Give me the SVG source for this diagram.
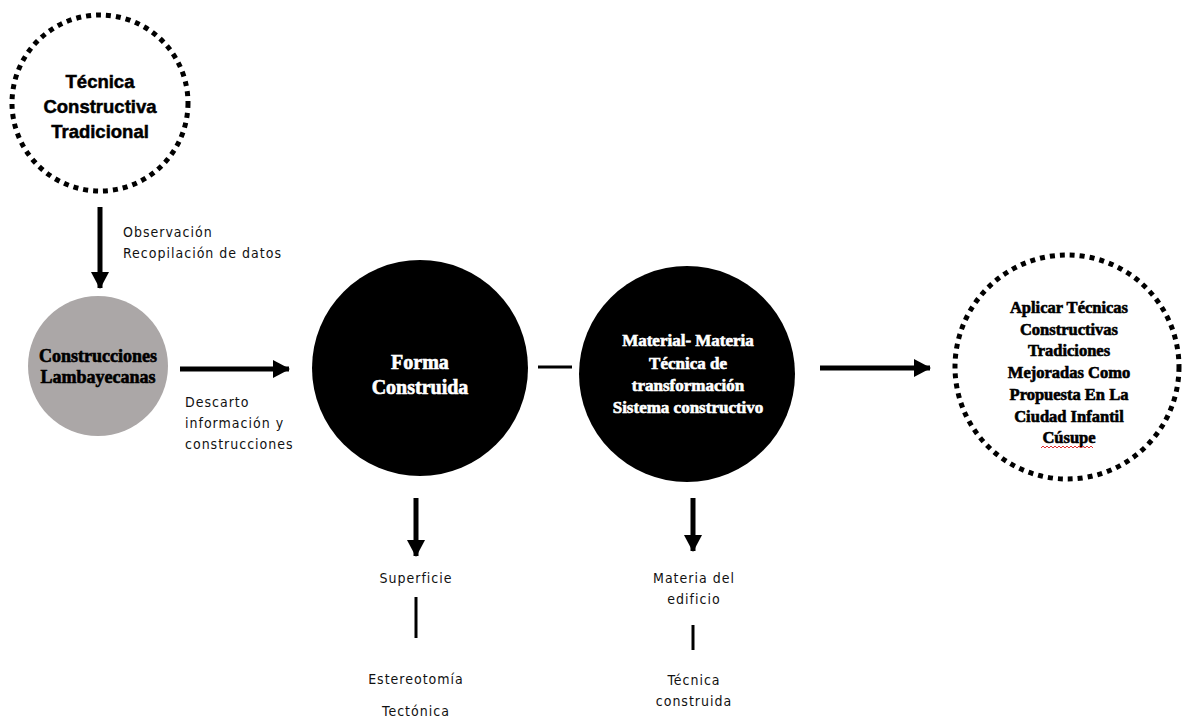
<svg xmlns="http://www.w3.org/2000/svg" width="1183" height="720" viewBox="0 0 1183 720">
  <defs>
    <marker id="ah" markerUnits="userSpaceOnUse" markerWidth="18" markerHeight="18" refX="16" refY="9" orient="auto">
      <path d="M0,0 L17,9 L0,18 Z" fill="#000"/>
    </marker>
    <style>
      .dotted { fill: #fff; stroke: #000; stroke-width: 5; stroke-dasharray: 5 5; }
      .solid { fill: #000; }
      .gray { fill: #aba7a7; }
      .ttl { font-family: "Liberation Serif", serif; font-weight: bold; text-anchor: middle; stroke: #000; stroke-width: 0.6px; }
      .wt { fill: #fff; stroke: #fff; }
      .sans { font-family: "Liberation Sans", sans-serif; font-weight: bold; text-anchor: middle; stroke: #000; stroke-width: 0.5px; }
      .lbl { font-family: "DejaVu Sans", sans-serif; font-stretch: condensed; font-size: 14px; fill: #111; letter-spacing: 1px; }
      .mid { text-anchor: middle; }
      .conn { stroke: #000; stroke-width: 5; fill: none; }
      .thin { stroke: #000; stroke-width: 3; fill: none; }
    </style>
  </defs>

  <g id="connectors">
    <line class="conn" x1="100" y1="207" x2="100" y2="288" marker-end="url(#ah)"/>
    <line class="conn" x1="180" y1="369" x2="289" y2="369" marker-end="url(#ah)"/>
    <line class="thin" x1="538" y1="367" x2="572" y2="367"/>
    <line class="conn" x1="820" y1="368" x2="930" y2="368" marker-end="url(#ah)"/>
    <line class="conn" x1="416" y1="498" x2="416" y2="556" marker-end="url(#ah)"/>
    <line class="conn" x1="693" y1="498" x2="693" y2="551" marker-end="url(#ah)"/>
    <line class="thin" x1="416" y1="597" x2="416" y2="638"/>
    <line class="thin" x1="693" y1="625" x2="693" y2="650"/>
  </g>

  <g id="node-tecnica">
    <circle class="dotted" cx="100" cy="103" r="88"/>
    <text class="sans" font-size="18.5" x="100" y="88">Técnica</text>
    <text class="sans" font-size="18.5" x="100" y="113">Constructiva</text>
    <text class="sans" font-size="18.5" x="100" y="138">Tradicional</text>
  </g>

  <g id="label-observacion">
    <text class="lbl" x="123" y="237">Observación</text>
    <text class="lbl" x="123" y="258">Recopilación de datos</text>
  </g>

  <g id="node-construcciones">
    <circle class="gray" cx="98" cy="366" r="70"/>
    <text class="ttl" font-size="18" x="98" y="362">Construcciones</text>
    <text class="ttl" font-size="18" x="98" y="383">Lambayecanas</text>
  </g>

  <g id="label-descarto">
    <text class="lbl" x="185" y="407">Descarto</text>
    <text class="lbl" x="185" y="428">información y</text>
    <text class="lbl" x="185" y="449">construcciones</text>
  </g>

  <g id="node-forma">
    <circle class="solid" cx="420" cy="368" r="108"/>
    <text class="ttl wt" font-size="20" x="420" y="369">Forma</text>
    <text class="ttl wt" font-size="20" x="420" y="394">Construida</text>
  </g>

  <g id="node-material">
    <circle class="solid" cx="687" cy="374" r="108"/>
    <text class="ttl wt" font-size="17" x="688" y="346">Material- Materia</text>
    <text class="ttl wt" font-size="17" x="688" y="369">Técnica de</text>
    <text class="ttl wt" font-size="17" x="688" y="391">transformación</text>
    <text class="ttl wt" font-size="17" x="688" y="413">Sistema constructivo</text>
  </g>

  <g id="node-aplicar">
    <circle class="dotted" cx="1067" cy="367" r="112"/>
    <text class="ttl" font-size="16.5" x="1069" y="313">Aplicar Técnicas</text>
    <text class="ttl" font-size="16.5" x="1069" y="335">Constructivas</text>
    <text class="ttl" font-size="16.5" x="1069" y="356">Tradiciones</text>
    <text class="ttl" font-size="16.5" x="1069" y="378">Mejoradas Como</text>
    <text class="ttl" font-size="16.5" x="1069" y="400">Propuesta En La</text>
    <text class="ttl" font-size="16.5" x="1069" y="422">Ciudad Infantil</text>
    <text class="ttl" font-size="16.5" x="1069" y="443">Cúsupe</text>
    <path d="M1041,448 l2,-2 l2,2 l2,-2 l2,2 l2,-2 l2,2 l2,-2 l2,2 l2,-2 l2,2 l2,-2 l2,2 l2,-2 l2,2 l2,-2 l2,2 l2,-2 l2,2 l2,-2 l2,2 l2,-2 l2,2 l2,-2 l2,2 l2,-2 l2,2" fill="none" stroke="#e03030" stroke-width="1"/>
  </g>

  <g id="label-superficie">
    <text class="lbl mid" x="416" y="583">Superficie</text>
    <text class="lbl mid" x="416" y="684">Estereotomía</text>
    <text class="lbl mid" x="416" y="716">Tectónica</text>
  </g>

  <g id="label-materia">
    <text class="lbl mid" x="694" y="583">Materia del</text>
    <text class="lbl mid" x="694" y="604">edificio</text>
    <text class="lbl mid" x="694" y="685">Técnica</text>
    <text class="lbl mid" x="694" y="706">construida</text>
  </g>
</svg>
